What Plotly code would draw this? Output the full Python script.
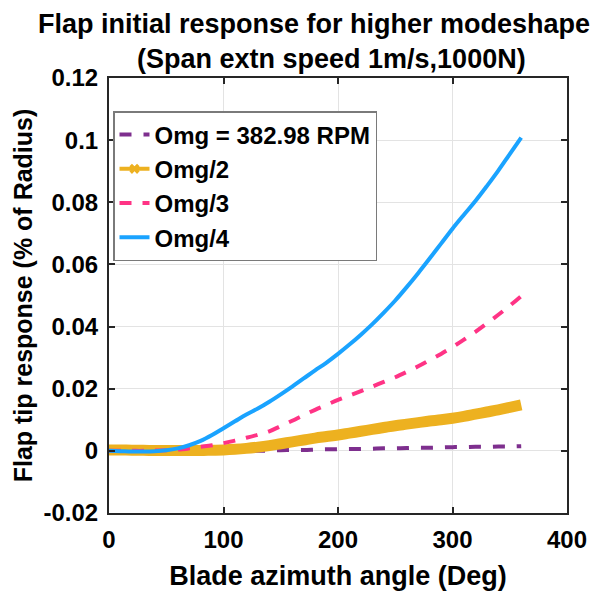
import plotly.graph_objects as go

azimuth = [0, 10, 20, 30, 40, 50, 60, 70, 80, 90, 100, 110, 120, 130, 140, 150, 160, 170, 180,
           190, 200, 210, 220, 230, 240, 250, 260, 270, 280, 290, 300, 310, 320, 330, 340, 350, 360]

omg = [0.0, 0.0, 0.0, -0.0001, -0.0001, -0.0002, -0.0002, -0.0002, -0.0002, -0.0002, -0.0001,
       -0.0001, 0.0, 0.0, 0.0001, 0.0002, 0.0003, 0.0003, 0.0004, 0.0005, 0.0005, 0.0006, 0.0006,
       0.0007, 0.0008, 0.0008, 0.0009, 0.0010, 0.0010, 0.0011, 0.0012, 0.0012, 0.0013, 0.0013,
       0.0014, 0.0014, 0.0015]

omg2 = [0.0003, 0.0003, 0.0002, 0.0002, 0.0001, 0.0001, 0.0001, 0.0001, 0.0001, 0.0002, 0.0003,
        0.0005, 0.0008, 0.0012, 0.0017, 0.0023, 0.0029, 0.0035, 0.0041, 0.0046, 0.0051, 0.0057,
        0.0063, 0.0069, 0.0075, 0.0081, 0.0086, 0.0091, 0.0096, 0.0100, 0.0105, 0.0111, 0.0118,
        0.0125, 0.0132, 0.0140, 0.0148]

omg3 = [0.0, 0.0, 0.0, 0.0, 0.0001, 0.0002, 0.0004, 0.0008, 0.0013, 0.0018, 0.0025, 0.0033,
        0.0042, 0.0052, 0.0063, 0.0080, 0.0097, 0.0115, 0.0132, 0.0148, 0.0164, 0.0178, 0.0192,
        0.0207, 0.0222, 0.0237, 0.0254, 0.0272, 0.0292, 0.0312, 0.0334, 0.0358, 0.0383, 0.0410,
        0.0438, 0.0467, 0.0498]

omg4 = [0.0, -0.0001, -0.0002, -0.0002, -0.0001, 0.0002, 0.0008, 0.0018, 0.0032, 0.0051, 0.0073,
        0.0095, 0.0117, 0.0136, 0.0158, 0.0182, 0.0207, 0.0233, 0.0259, 0.0284, 0.0312, 0.0342,
        0.0374, 0.0408, 0.0445, 0.0484, 0.0527, 0.0572, 0.0619, 0.0667, 0.0715, 0.0760, 0.0804,
        0.0852, 0.0902, 0.0955, 0.1008]

names = ["Omg = 382.98 RPM", "Omg/2", "Omg/3", "Omg/4"]
x_ticks = [0, 100, 200, 300, 400]
y_ticks = [-0.02, 0, 0.02, 0.04, 0.06, 0.08, 0.1, 0.12]
y_tick_text = ["-0.02", "0", "0.02", "0.04", "0.06", "0.08", "0.1", "0.12"]

PURPLE = "#7E2F8E"
YELLOW = "#EDB120"
PINK = "#FF3385"
BLUE = "#1AA3FF"
FONT = "Liberation Sans"

fig = go.Figure()
fig.add_trace(go.Scatter(x=azimuth, y=omg, name=names[0], mode="lines", line_shape="spline",
                         line=dict(color=PURPLE, width=4, dash="12px,12px")))
fig.add_trace(go.Scatter(x=azimuth, y=omg2, name=names[1], mode="lines", line_shape="spline",
                         showlegend=False, line=dict(color=YELLOW, width=11)))
fig.add_trace(go.Scatter(x=[None], y=[None], name=names[1], mode="lines+markers",
                         line=dict(color=YELLOW, width=4),
                         marker=dict(symbol="x", size=9, color=YELLOW)))
fig.add_trace(go.Scatter(x=azimuth, y=omg3, name=names[2], mode="lines", line_shape="spline",
                         line=dict(color=PINK, width=4, dash="12px,11px")))
fig.add_trace(go.Scatter(x=azimuth, y=omg4, name=names[3], mode="lines", line_shape="spline",
                         line=dict(color=BLUE, width=4)))

axis_common = dict(
    showline=True, linecolor="#262626", linewidth=2, mirror="ticks",
    ticks="inside", ticklen=6, tickwidth=2, tickcolor="#262626",
    showgrid=True, gridcolor="#E3E3E3", gridwidth=1, zeroline=False, automargin=False,
    tickfont=dict(family=FONT, size=24, color="#000000", weight="bold"),
)

fig.update_xaxes(range=[0, 400], tickvals=x_ticks, ticklabelstandoff=4,
                 title=dict(text="Blade azimuth angle (Deg)", standoff=14,
                            font=dict(family=FONT, size=27, color="#000000", weight="bold")),
                 **axis_common)
fig.update_yaxes(range=[-0.02, 0.12], tickvals=y_ticks, ticktext=y_tick_text,
                 ticklabelstandoff=4,
                 title=dict(text="Flap tip response (% of Radius)", standoff=4,
                            font=dict(family=FONT, size=25, color="#000000", weight="bold")),
                 **axis_common)

L, R, T, B = 109, 28, 78, 79
pw = 595 - L - R
ph = 592 - T - B

fig.add_annotation(text="Flap initial response for higher modeshape", xref="paper", yref="paper",
                   x=(314 - L) / pw, y=1, yshift=T - 24, xanchor="center", yanchor="middle",
                   showarrow=False, font=dict(family=FONT, size=27, color="#000000", weight="bold"))
fig.add_annotation(text="(Span extn speed 1m/s,1000N)", xref="paper", yref="paper",
                   x=(331 - L) / pw, y=1, yshift=T - 59, xanchor="center", yanchor="middle",
                   showarrow=False, font=dict(family=FONT, size=27, color="#000000", weight="bold"))

fig.update_layout(
    width=595, height=592,
    margin=dict(l=L, r=R, t=T, b=B),
    paper_bgcolor="#FFFFFF", plot_bgcolor="#FFFFFF",
    legend=dict(x=(113 - L) / pw, y=(513 - 111) / ph, xanchor="left", yanchor="top",
                bgcolor="#FFFFFF", bordercolor="#7A7A7A", borderwidth=1.5,
                font=dict(family=FONT, size=24, color="#000000", weight="bold"),
                tracegroupgap=0, entrywidth=250),
    showlegend=True,
)

fig.write_html("out.html", post_script="document.body.style.margin='0';",
               config={"displayModeBar": False})
